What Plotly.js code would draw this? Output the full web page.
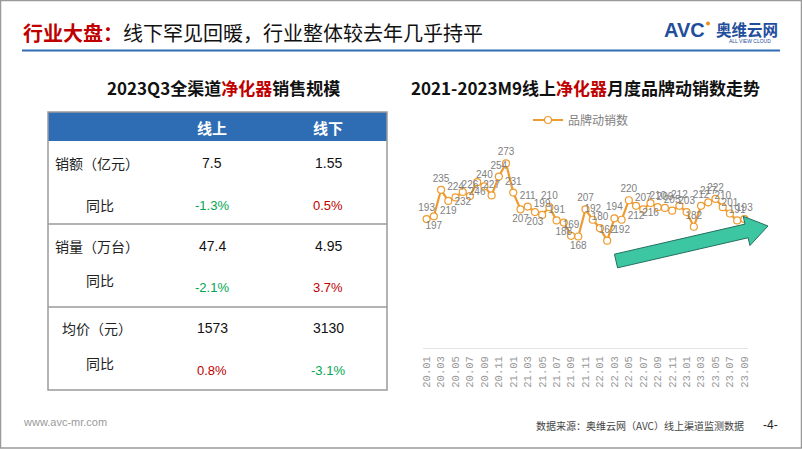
<!DOCTYPE html>
<html><head><meta charset="utf-8">
<script src="https://cdn.plot.ly/plotly-3.0.1.min.js"></script>
<style>html,body{margin:0;padding:0;background:#fff;}#chart{width:802px;height:451px;}</style>
</head><body><div id="chart"></div>
<script>
// ---- data ----
const months = ['20.01','20.02','20.03','20.04','20.05','20.06','20.07','20.08','20.09','20.10','20.11','20.12',
  '21.01','21.02','21.03','21.04','21.05','21.06','21.07','21.08','21.09','21.10','21.11','21.12',
  '22.01','22.02','22.03','22.04','22.05','22.06','22.07','22.08','22.09','22.10','22.11','22.12',
  '23.01','23.02','23.03','23.04','23.05','23.06','23.07','23.08','23.09'];
const brandCount = [193,197,235,219,224,232,226,246,240,227,254,273,
  231,207,211,203,199,210,191,188,169,168,207,192,
  180,162,194,192,220,212,207,216,210,209,205,212,
  203,182,212,217,222,210,201,191,193];
const tickLabels = ['20.01','20.03','20.05','20.07','20.09','20.11','21.01','21.03','21.05','21.07','21.09','21.11',
  '22.01','22.03','22.05','22.07','22.09','22.11','23.01','23.03','23.05','23.07','23.09'];
const seriesName = '品牌动销数';

const tableCols = ['线上','线下'];
const metricNames = ['销额（亿元）','销量（万台）','均价（元）'];
const onlineVals = ['7.5','47.4','1573'];
const offlineVals = ['1.55','4.95','3130'];
const onlineYoY = ['-1.3%','-2.1%','0.8%'];
const offlineYoY = ['0.5%','3.7%','-3.1%'];
const yoyLabel = '同比';

// ---- styles ----
const belowIdx = [1,3,5,7,13,15,19,21,27,29,31];
const labelPos = brandCount.map((_,i)=> belowIdx.includes(i) ? 'bottom center' : 'top center');

const W = 802, H = 451;
const X = p => p / W, Y = p => 1 - p / H;
const RED = '#C00000', GREEN = '#00A651', BLUE = '#2E6DB4';
const CJK = '"Noto Sans CJK SC", "Noto Sans", sans-serif';
const numFont = '"Liberation Sans", Arial, sans-serif';

const annotations = [];
const shapes = [];
function txt(x, y, text, size, color, anchor, family) {
  annotations.push({xref:'paper', yref:'paper', x:X(x), y:Y(y), text:text, showarrow:false,
    xanchor:anchor||'center', yanchor:'middle', font:{family:family||CJK, size:size, color:color}, borderpad:0});
}
function line(x0,y0,x1,y1,color,w){shapes.push({type:'line',xref:'paper',yref:'paper',x0:X(x0),y0:Y(y0),x1:X(x1),y1:Y(y1),line:{color:color,width:w}});}
function rect(x0,y0,x1,y1,fill,lc,w){shapes.push({type:'rect',xref:'paper',yref:'paper',x0:X(x0),y0:Y(y0),x1:X(x1),y1:Y(y1),fillcolor:fill,line:{color:lc,width:w}});}

// slide frame
rect(0.5,0.5,801.5,448,'rgba(0,0,0,0)','#9a9a9a',1.5);
// header
txt(22, 33, '<b><span style="color:'+RED+'">行业大盘：</span></b>线下罕见回暖，行业整体较去年几乎持平', 20, '#111', 'left');
line(22, 50.5, 780, 50.5, BLUE, 2);
// logo
txt(684, 30, '<b>AVC</b>', 20, '#1F4E9C', 'center', '"Liberation Sans", Arial, sans-serif');
shapes.push({type:'circle',xref:'paper',yref:'paper',x0:X(706),y0:Y(21.5),x1:X(710),y1:Y(25.5),fillcolor:'#F08C1E',line:{width:0}});
txt(746.5, 29, '<b>奥维云网</b>', 15.5, '#1F4E9C', 'center');
txt(750, 40.5, 'ALL VIEW CLOUD', 5, '#1F4E9C', 'center', numFont);

// table
txt(224, 88, '<b>2023Q3全渠道<span style="color:'+RED+'">净化器</span>销售规模</b>', 17, '#111');
rect(48, 112, 387, 141, BLUE, BLUE, 0);
rect(48, 112, 387, 390, 'rgba(0,0,0,0)', '#9a9a9a', 1.5);
line(48, 224, 387, 224, '#9a9a9a', 1.5);
line(48, 307, 387, 307, '#9a9a9a', 1.5);
const colX = [212, 328];
tableCols.forEach((c,i)=>txt(colX[i], 127, '<b>'+c+'</b>', 15, '#fff'));
const rowY = [163, 246, 328], yoyLblY = [205, 280, 363], yoyValY = [205, 287, 370];
const rowLblX = [97, 97, 97];
function yoyColor(s){return s.trim().startsWith('-') ? GREEN : RED;}
metricNames.forEach((m,i)=>{
  txt(rowLblX[i], rowY[i], m, 14, '#222');
  txt(100, yoyLblY[i], yoyLabel, 14, '#222');
  txt(colX[0], rowY[i], onlineVals[i], 14, '#111', 'center', numFont);
  txt(colX[1], rowY[i], offlineVals[i], 14, '#111', 'center', numFont);
  txt(colX[0], yoyValY[i], onlineYoY[i], 13, yoyColor(onlineYoY[i]), 'center', numFont);
  txt(colX[1], yoyValY[i], offlineYoY[i], 13, yoyColor(offlineYoY[i]), 'center', numFont);
});

// chart title
txt(585, 88, '<b>2021-2023M9线上<span style="color:'+RED+'">净化器</span>月度品牌动销数走势</b>', 17, '#111');

// trend arrow (decoration)
(function(){
  const S=[616,261], T=[768,226];
  const dx=T[0]-S[0], dy=T[1]-S[1], L=Math.hypot(dx,dy);
  const u=[dx/L,dy/L], n=[-u[1],u[0]];
  const sw=7, hw=15, hl=22;
  const B=[T[0]-hl*u[0], T[1]-hl*u[1]];
  const pts=[[S[0]+sw*n[0],S[1]+sw*n[1]],[B[0]+sw*n[0],B[1]+sw*n[1]],[B[0]+hw*n[0],B[1]+hw*n[1]],T,
    [B[0]-hw*n[0],B[1]-hw*n[1]],[B[0]-sw*n[0],B[1]-sw*n[1]],[S[0]-sw*n[0],S[1]-sw*n[1]]];
  const path='M'+pts.map(p=>X(p[0]).toFixed(5)+','+Y(p[1]).toFixed(5)).join(' L')+' Z';
  shapes.push({type:'path',xref:'paper',yref:'paper',path:path,fillcolor:'#3CC6A2',line:{color:'#24705E',width:1}});
})();

// footer
txt(22, 422, 'www.avc-mr.com', 11, '#9a9a9a', 'left', numFont);
txt(745, 425, '数据来源：奥维云网（AVC）线上渠道监测数据', 10, '#444', 'right');
txt(770, 425, '-4-', 12, '#222', 'center', numFont);

const trace = {
  type:'scatter', mode:'lines+markers+text', name:seriesName,
  x: months, y: brandCount, text: brandCount.map(String), textposition: labelPos,
  textfont:{family:numFont, size:10, color:'#7f7f7f'},
  line:{color:'#EE9B2F', width:2.2},
  marker:{size:7, color:'#ffffff', line:{color:'#EE9B2F', width:1.2}},
  cliponaxis:false
};

const layout = {
  width:W, height:H, margin:{l:0,r:0,t:0,b:0},
  paper_bgcolor:'#fff', plot_bgcolor:'rgba(0,0,0,0)',
  font:{family:CJK},
  showlegend:true,
  legend:{orientation:'h', x:X(528), y:Y(120), xanchor:'left', yanchor:'middle', font:{family:CJK,size:12,color:'#7f7f7f'}, bgcolor:'rgba(0,0,0,0)'},
  xaxis:{domain:[X(423), X(748)], type:'category', range:[-0.5, 44.5], tickvals:tickLabels, ticktext:tickLabels,
    tickangle:-90, tickfont:{family:'"Liberation Mono", monospace', size:10.5, color:'#999999'},
    showline:true, linecolor:'#e3e3e3', linewidth:1, showgrid:false, zeroline:false, ticks:'', ticklabelstandoff:3, fixedrange:true},
  yaxis:{domain:[Y(348), Y(144.5)], range:[8, 300], visible:false, showgrid:false, zeroline:false},
  shapes:shapes, annotations:annotations
};
Plotly.newPlot('chart', [trace], layout, {displayModeBar:false, staticPlot:true});
</script></body></html>
